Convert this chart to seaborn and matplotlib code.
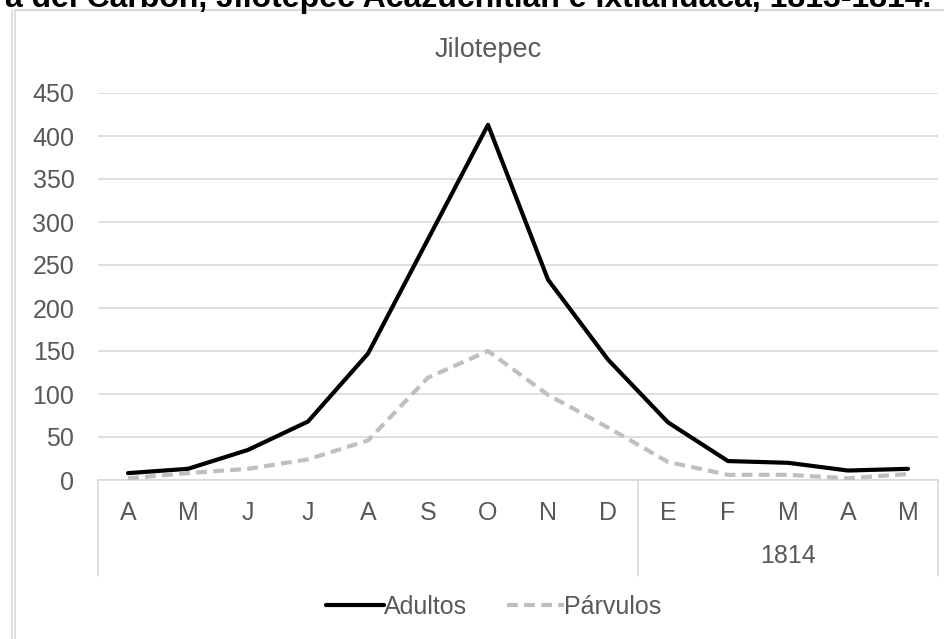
import matplotlib
matplotlib.use("Agg")
import matplotlib.pyplot as plt
from matplotlib.lines import Line2D
import seaborn as sns
import pandas as pd

months = ["A", "M", "J", "J", "A", "S", "O", "N", "D", "E", "F", "M", "A", "M"]
year_groups = ["", "1814"]
group_sizes = [9, 5]
adultos = [8, 13, 35, 68, 147, 280, 413, 233, 140, 67, 22, 20, 11, 13]
parvulos = [2, 8, 13, 24, 46, 119, 150, 99, 61, 21, 6, 6, 2, 7]
series_names = ["Adultos", "Párvulos"]
yticks = [0, 50, 100, 150, 200, 250, 300, 350, 400, 450]
chart_title = "Jilotepec"
outer_title = "a del Carbón, Jilotepec Acazuchitlán e Ixtlahuaca, 1813-1814."

sns.set_theme(style="white")
plt.rcParams["font.family"] = ["Liberation Sans", "DejaVu Sans"]

W, H = 945, 639
fig = plt.figure(figsize=(W / 100, H / 100), dpi=100)

def fx(px):
    return px / W

def fy(py):
    return 1 - py / H

FS = 18
GRAY = "#595959"
LW = 3.0
DASH = (2.6, 1.5)

ax = fig.add_axes([fx(98), fy(480), fx(938) - fx(98), fy(93) - fy(480)])

df = pd.DataFrame({
    "pos": list(range(len(months))) * 2,
    "value": adultos + parvulos,
    "serie": [series_names[0]] * len(months) + [series_names[1]] * len(months),
})
sns.lineplot(data=df, x="pos", y="value", hue="serie", style="serie",
             palette={"Adultos": "black", "Párvulos": "#BFBFBF"},
             dashes={"Adultos": "", "Párvulos": DASH},
             linewidth=LW, legend=False, ax=ax, zorder=3)

ax.set_xlim(-0.5, len(months) - 0.5)
ax.set_ylim(0, 450)
ax.set_yticks(yticks)
ax.set_yticklabels([str(t) for t in yticks], fontsize=FS, color=GRAY)
ax.tick_params(axis="y", length=0, pad=17)
ax.set_xticks([])
ax.set_xlabel("")
ax.set_ylabel("")
ax.grid(axis="y", color="#D9D9D9", linewidth=1.2, zorder=0)
for s in ["left", "right", "top"]:
    ax.spines[s].set_visible(False)
ax.spines["bottom"].set_color("#D9D9D9")
ax.spines["bottom"].set_linewidth(1.2)

# category labels (two levels)
for i, m in enumerate(months):
    fig.text(fx(128 + 60 * i), fy(513), m, ha="center", va="center",
             fontsize=FS, color=GRAY)
gx = [98]
acc = 0
for g in group_sizes:
    acc += g
    gx.append(98 + 60 * acc)
for x in gx:
    fig.add_artist(Line2D([fx(x), fx(x)], [fy(480), fy(576)], color="#D9D9D9",
                          linewidth=1.2, transform=fig.transFigure))
for i, g in enumerate(year_groups):
    if g:
        cx = (gx[i] + gx[i + 1]) / 2
        fig.text(fx(cx), fy(556), g, ha="center", va="center",
                 fontsize=FS, color=GRAY)

fig.text(fx(488), fy(50), chart_title, ha="center", va="center",
         fontsize=FS + 1.5, color=GRAY)

# legend
handles = [Line2D([], [], color="black", linewidth=LW),
           Line2D([], [], color="#BFBFBF", linewidth=LW, dashes=DASH)]
fig.legend(handles, series_names, loc="center", bbox_to_anchor=(fx(494), fy(607)),
           ncol=2, frameon=False, fontsize=FS, handlelength=2.3,
           handletextpad=0.0, columnspacing=1.6, labelcolor=GRAY)

# outer border lines
for x in [12, 15]:
    fig.add_artist(Line2D([fx(x), fx(x)], [fy(10), 0], color="#D9D9D9",
                          linewidth=1.2, transform=fig.transFigure))
fig.add_artist(Line2D([fx(15), 1], [fy(10), fy(10)], color="#D9D9D9",
                      linewidth=1.6, transform=fig.transFigure))

fig.text(fx(468), fy(7), outer_title, ha="center", va="baseline",
         fontsize=23, fontweight="bold", color="black")

fig.savefig("out.png", dpi=100)
